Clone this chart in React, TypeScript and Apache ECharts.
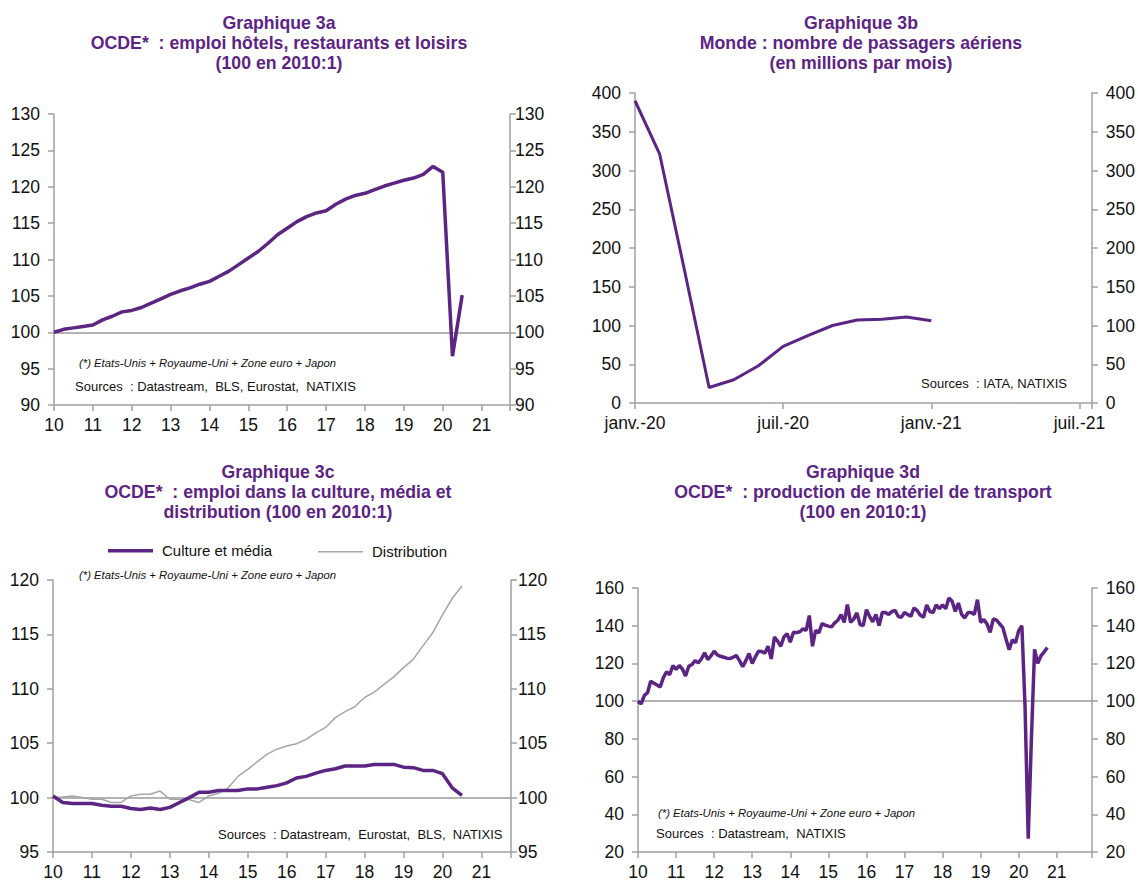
import React, { useEffect, useRef } from 'react';
import * as echarts from 'echarts';

// ---------- data ----------
const yearTickLabels = ['10', '11', '12', '13', '14', '15', '16', '17', '18', '19', '20', '21'];
const monthTickLabels = ['janv.-20', 'juil.-20', 'janv.-21', 'juil.-21'];

// Graphique 3a: quarterly, 2010Q1 -> 2020Q3
const hotelsRestaurants = [
  100.0, 100.4, 100.6, 100.8,
  101.0, 101.7, 102.2, 102.8,
  103.0, 103.4, 104.0, 104.6,
  105.2, 105.7, 106.1, 106.6,
  107.0, 107.7, 108.4, 109.3,
  110.2, 111.1, 112.2, 113.4,
  114.3, 115.2, 115.9, 116.4,
  116.7, 117.6, 118.3, 118.8,
  119.1, 119.6, 120.1, 120.5,
  120.9, 121.2, 121.7, 122.8,
  122.0, 96.7, 105.1,
];

// Graphique 3b: monthly, janv.-20 -> janv.-21
const airPassengers = [390, 321, 172, 20, 30, 48, 73, 87, 100, 107, 108, 111, 106];

// Graphique 3c: quarterly, 2010Q1 -> 2020Q3
const cultureMedia = [
  100.15, 99.55, 99.45, 99.45,
  99.45, 99.3, 99.2, 99.2,
  99.0, 98.9, 99.05, 98.9,
  99.1, 99.55, 100.0, 100.5,
  100.5, 100.65, 100.65, 100.65,
  100.8, 100.8, 100.95, 101.1,
  101.35, 101.8, 101.95, 102.25,
  102.5, 102.65, 102.9, 102.9,
  102.9, 103.05, 103.05, 103.05,
  102.8, 102.75, 102.5, 102.5,
  102.2, 100.9, 100.2,
];
const distribution = [
  100.0, 100.05, 100.15, 100.0,
  99.85, 99.85, 99.55, 99.55,
  100.15, 100.3, 100.3, 100.6,
  99.85, 99.85, 99.8, 99.55,
  100.15, 100.4, 100.9, 101.95,
  102.6, 103.3, 104.0, 104.45,
  104.75, 104.95, 105.35, 105.95,
  106.45, 107.35, 107.9, 108.35,
  109.2, 109.7, 110.4, 111.1,
  111.95, 112.7, 113.95, 115.15,
  116.8, 118.3, 119.45,
];

// Graphique 3d: monthly, 2010-01 -> 2020-10
const transportEquipment = [
  100, 98.5, 103, 104.5, 110.5, 109.5, 108.5, 107.5, 112.5, 115.5, 114, 118.9,
  116.8, 118.9, 117, 113.3, 118.5, 119.4, 121.5, 120.3, 122.5, 125.6, 122.1, 124,
  126.5, 124.5, 123.8, 123.3, 122.8, 122.6, 123.3, 124.2, 121.5, 118.2, 121.5, 125.3,
  120, 123.5, 126.5, 126.3, 125.5, 129.1, 122.4, 134, 131.8, 129.1, 134, 135.8,
  131.3, 136.5, 136.3, 136.8, 138.3, 137.5, 145.4, 129.1, 137.6, 136.2, 141.1, 140.3,
  139.8, 139.4, 141.5, 142.9, 145.9, 141.8, 151.2, 141.8, 143.5, 146.8, 140.6, 140,
  148.5, 145, 142, 146, 140, 147, 147, 146, 147.5, 148.2, 145, 144.4,
  147, 146, 145, 149.4, 148, 145.5, 144.5, 151, 147.5, 147, 151, 149,
  151, 149, 154.7, 153, 147.6, 152, 146, 144.1, 147, 147, 146, 153.8,
  141.8, 143.2, 141, 136.5, 143.6, 143, 141, 139, 133, 127.3, 132.6, 131,
  137.4, 140, 97, 27, 80, 127.5, 120, 124, 126, 128.5,
];

// ---------- style ----------
const PURPLE = '#5c2483';
const GREY_SERIES = '#a6a6a6';
const AXIS_GREY = '#a0a0a0';
const FONT = '"Liberation Sans", Arial, Helvetica, sans-serif';
const LABEL_COLOR = '#111';

const quarterly = (vals: number[]) => vals.map((v, i) => [10 + i / 4, v]);
const monthly2010 = (vals: number[]) => vals.map((v, i) => [10 + i / 12, v]);
const monthlyIdx = (vals: number[]) => vals.map((v, i) => [i, v]);

function yAxis(gridIndex: number, min: number, max: number, interval: number, position: 'left' | 'right', margin: number) {
  return {
    type: 'value',
    gridIndex,
    min,
    max,
    interval,
    position,
    axisLine: { show: true, lineStyle: { color: AXIS_GREY, width: 1.5 } },
    axisTick: { show: true, length: 6, lineStyle: { color: AXIS_GREY, width: 1.5 } },
    axisLabel: { color: LABEL_COLOR, fontSize: 17.5, fontFamily: FONT, margin },
    splitLine: { show: false },
  };
}

function yearXAxis(gridIndex: number, max: number) {
  return {
    type: 'value',
    gridIndex,
    min: 10,
    max,
    interval: 1,
    axisLine: { show: true, onZero: false, lineStyle: { color: AXIS_GREY, width: 1.5 } },
    axisTick: { show: true, length: 6, lineStyle: { color: AXIS_GREY, width: 1.5 } },
    axisLabel: {
      color: LABEL_COLOR,
      fontSize: 17.5,
      fontFamily: FONT,
      margin: 11,
      formatter: (v: number) => {
        const i = Math.round(v - 10);
        return Math.abs(v - 10 - i) < 1e-6 && yearTickLabels[i] !== undefined ? yearTickLabels[i] : '';
      },
    },
    splitLine: { show: false },
  };
}

const line100 = {
  silent: true,
  symbol: 'none',
  z: 1,
  label: { show: false },
  lineStyle: { color: '#9a9a9a', width: 1.5, type: 'solid' },
  data: [{ yAxis: 100 }],
};

function titleText(x: number, y: number, text: string) {
  return {
    type: 'text',
    x,
    y,
    style: {
      text,
      fill: PURPLE,
      fontFamily: FONT,
      fontSize: 17.7,
      fontWeight: 'bold',
      lineHeight: 20,
      align: 'center',
      textAlign: 'center',
      verticalAlign: 'middle',
      textVerticalAlign: 'middle',
    },
  };
}

function noteText(x: number, y: number, text: string, italic: boolean) {
  return {
    type: 'text',
    x,
    y,
    style: {
      text,
      fill: '#111',
      fontFamily: FONT,
      fontSize: italic ? 11.3 : 13,
      fontStyle: italic ? 'italic' : 'normal',
      align: 'left',
      textAlign: 'left',
      verticalAlign: 'middle',
      textVerticalAlign: 'middle',
    },
  };
}

const NOTE = '(*) Etats-Unis + Royaume-Uni + Zone euro + Japon';

export default function App() {
  const ref = useRef<HTMLDivElement>(null);

  useEffect(() => {
    if (!ref.current) return;
    const chart = echarts.init(ref.current, undefined, { renderer: 'svg' });

    const option: any = {
      animation: false,
      backgroundColor: '#ffffff',
      grid: [
        { left: 54, top: 114, width: 456, height: 291 },
        { left: 635, top: 93, width: 458, height: 310 },
        { left: 53, top: 580, width: 458, height: 273 },
        { left: 638, top: 588, width: 459, height: 265 },
      ],
      xAxis: [
        yearXAxis(0, 21.73),
        {
          type: 'value',
          gridIndex: 1,
          min: 0,
          max: 18.5,
          interval: 6,
          axisLine: { show: true, onZero: false, lineStyle: { color: AXIS_GREY, width: 1.5 } },
          axisTick: { show: true, length: 6, lineStyle: { color: AXIS_GREY, width: 1.5 } },
          axisLabel: {
            color: LABEL_COLOR,
            fontSize: 17.5,
            fontFamily: FONT,
            margin: 11,
            formatter: (v: number) => {
              const i = Math.round(v / 6);
              return Math.abs(v - i * 6) < 1e-6 && monthTickLabels[i] !== undefined ? monthTickLabels[i] : '';
            },
          },
          splitLine: { show: false },
        },
        yearXAxis(2, 21.76),
        yearXAxis(3, 21.92),
      ],
      yAxis: [
        yAxis(0, 90, 130, 5, 'left', 14),
        yAxis(0, 90, 130, 5, 'right', 5),
        yAxis(1, 0, 400, 50, 'left', 14),
        yAxis(1, 0, 400, 50, 'right', 14),
        yAxis(2, 95, 120, 5, 'left', 14),
        yAxis(2, 95, 120, 5, 'right', 7),
        yAxis(3, 20, 160, 20, 'left', 14),
        yAxis(3, 20, 160, 20, 'right', 14),
      ],
      legend: [
        {
          left: 108,
          top: 543.25,
          padding: 0,
          icon: 'rect',
          itemWidth: 45,
          itemHeight: 3.5,
          data: ['Culture et média'],
          itemStyle: { color: PURPLE, borderWidth: 0 },
          textStyle: { fontSize: 15, color: '#111', fontFamily: FONT, padding: [0, 0, 0, 4] },
        },
        {
          left: 318,
          top: 544.25,
          padding: 0,
          icon: 'rect',
          itemWidth: 45,
          itemHeight: 1.5,
          data: ['Distribution'],
          itemStyle: { color: GREY_SERIES, borderWidth: 0 },
          textStyle: { fontSize: 15, color: '#111', fontFamily: FONT, padding: [0, 0, 0, 4] },
        },
      ],
      series: [
        {
          name: 'Emploi hôtels, restaurants et loisirs',
          type: 'line',
          xAxisIndex: 0,
          yAxisIndex: 0,
          data: quarterly(hotelsRestaurants),
          showSymbol: false,
          symbol: 'none',
          lineStyle: { color: PURPLE, width: 3.5 },
          itemStyle: { color: PURPLE },
          z: 3,
          markLine: line100,
        },
        {
          name: 'Passagers aériens',
          type: 'line',
          xAxisIndex: 1,
          yAxisIndex: 2,
          data: monthlyIdx(airPassengers),
          showSymbol: false,
          symbol: 'none',
          lineStyle: { color: PURPLE, width: 3 },
          itemStyle: { color: PURPLE },
          z: 3,
        },
        {
          name: 'Distribution',
          type: 'line',
          xAxisIndex: 2,
          yAxisIndex: 4,
          data: quarterly(distribution),
          showSymbol: false,
          symbol: 'none',
          lineStyle: { color: GREY_SERIES, width: 1.5 },
          itemStyle: { color: GREY_SERIES },
          z: 2,
          markLine: line100,
        },
        {
          name: 'Culture et média',
          type: 'line',
          xAxisIndex: 2,
          yAxisIndex: 4,
          data: quarterly(cultureMedia),
          showSymbol: false,
          symbol: 'none',
          lineStyle: { color: PURPLE, width: 3.5 },
          itemStyle: { color: PURPLE },
          z: 3,
        },
        {
          name: 'Production de matériel de transport',
          type: 'line',
          xAxisIndex: 3,
          yAxisIndex: 6,
          data: monthly2010(transportEquipment),
          showSymbol: false,
          symbol: 'none',
          lineStyle: { color: PURPLE, width: 3.5 },
          itemStyle: { color: PURPLE },
          z: 3,
          markLine: line100,
        },
      ],
      graphic: [
        titleText(279, 42.7, 'Graphique 3a\nOCDE*  : emploi hôtels, restaurants et loisirs\n(100 en 2010:1)'),
        titleText(861, 42.7, 'Graphique 3b\nMonde : nombre de passagers aériens\n(en millions par mois)'),
        titleText(278, 492, 'Graphique 3c\nOCDE*  : emploi dans la culture, média et\ndistribution (100 en 2010:1)'),
        titleText(863, 492, 'Graphique 3d\nOCDE*  : production de matériel de transport\n(100 en 2010:1)'),
        noteText(79, 363, NOTE, true),
        noteText(75, 386, 'Sources  : Datastream,  BLS, Eurostat,  NATIXIS', false),
        noteText(921, 383, 'Sources  : IATA, NATIXIS', false),
        noteText(79, 575, NOTE, true),
        noteText(218, 834, 'Sources  : Datastream,  Eurostat,  BLS,  NATIXIS', false),
        noteText(658, 813, NOTE, true),
        noteText(656, 833, 'Sources  : Datastream,  NATIXIS', false),
      ],
    };

    chart.setOption(option);
    return () => {
      chart.dispose();
    };
  }, []);

  return (
    <div
      ref={ref}
      style={{ position: 'absolute', left: 0, top: 0, width: 1138, height: 881, background: '#fff' }}
    />
  );
}
